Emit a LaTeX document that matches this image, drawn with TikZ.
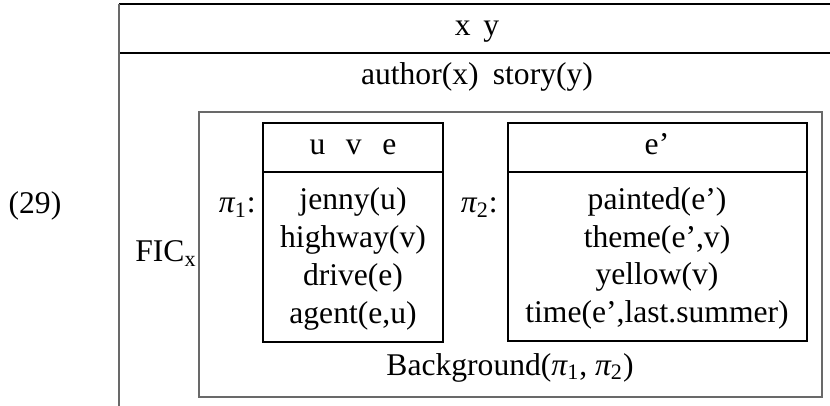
\documentclass[tikz,border=0pt]{standalone}
\usepackage{fontspec}
\setmainfont{Liberation Serif}
\usetikzlibrary{positioning}
\definecolor{frame}{RGB}{105,105,105}
\definecolor{ink}{RGB}{0,0,0}
\tikzset{
  cond/.style    = {anchor=base, inner sep=0pt, text=ink,
                    font=\fontsize{15.8}{18}\selectfont},
  drsline/.style = {draw=ink, line width=0.7pt},
  ficline/.style = {draw=frame, line width=0.8pt},
}
\newcommand{\piref}[1]{{\itshape π}\textsubscript{#1}}

\begin{document}
\begin{tikzpicture}[x=0.5pt, y=-0.5pt]
\useasboundingbox (0,0) rectangle (830,406);
% outer DRS (cut off at right and bottom)
\draw[drsline] (119,53) -- (830,53);
\draw[drsline] (119,4) -- (830,4);
\draw[ficline] (119,4) -- (119,406);
\node[cond] (num) at (35,214) {(29)};
\node[cond] (univ) at (477,36) {x\hspace{0.4em}y};
\node[cond] (conds) at (477,85) {author(x)\hspace{0.45em}story(y)};

% FIC box
\draw[ficline] (199,112) rectangle (822,397);
\node[cond, anchor=base west] (fic) at (135,262) {FIC\textsubscript{x}};
\node[cond] (bg) at (510,375) {Background(\piref{1}, \piref{2})};

% pi_1 box
\draw[drsline] (263,123) rectangle (443,342);
\draw[drsline] (263,172) -- (443,172);
\node[cond, anchor=base east] (lone) at (256,213) {\piref{1}:};
\node[cond] (hone) at (353,155) {u\hspace{0.65em}v\hspace{0.65em}e};
\foreach \t [count=\i] in {jenny(u), highway(v), drive(e), {agent(e,u)}}
  \node[cond] (rone\i) at (353,{210+37.8*(\i-1)}) {\t};

% pi_2 box
\draw[drsline] (508,123) rectangle (807,341);
\draw[drsline] (508,172) -- (807,172);
\node[cond, anchor=base east] (ltwo) at (498,213) {\piref{2}:};
\node[cond] (htwo) at (657,155) {e’};
\foreach \t [count=\i] in {painted(e’), {theme(e’,v)}, yellow(v), {time(e’,last.summer)}}
  \node[cond] (rtwo\i) at (657,{210+37.5*(\i-1)}) {\t};
\end{tikzpicture}
\end{document}
